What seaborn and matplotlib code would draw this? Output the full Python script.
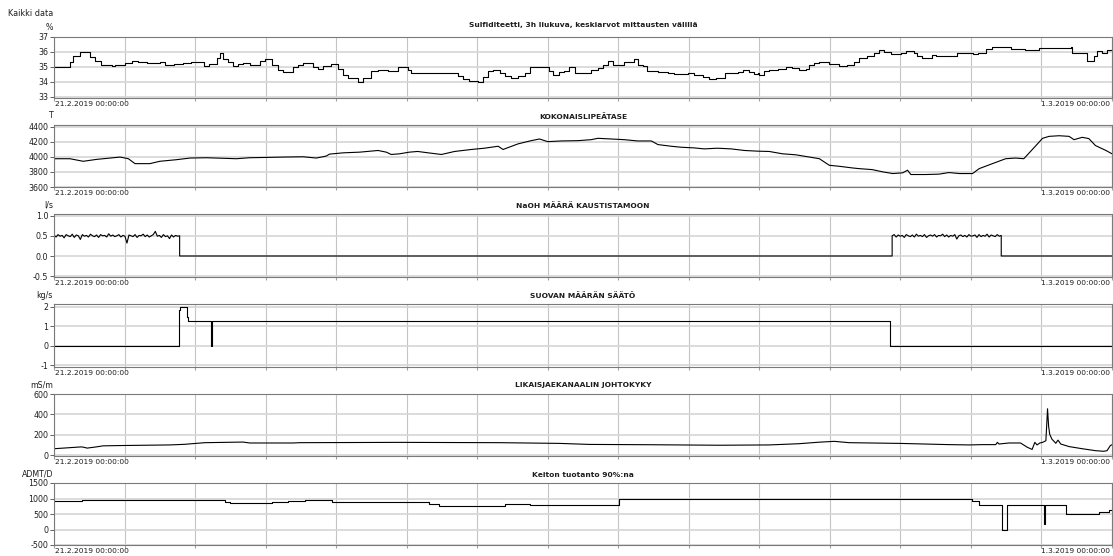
import numpy as np
import matplotlib
matplotlib.use("Agg")
import matplotlib.pyplot as plt
from matplotlib.ticker import FormatStrFormatter
import seaborn as sns

# ---- time axis: hours since 21.2.2019 00:00:00 (8 days) ----
T_END = 192.0
START_LABEL = "21.2.2019 00:00:00"
END_LABEL = "1.3.2019 00:00:00"

# ---- Sulfiditeetti (%), 3 h rolling mean, stepwise ----
sulf_t = [0, 2.9, 3.5, 4.7, 6.5, 7.4, 8.6, 10.5, 11.1, 12.9, 14.1, 15.3, 16.8, 19.2, 20.1,
          21.8, 23.4, 24.9, 26.2, 27.2, 28.2, 29.5, 30.1, 30.7, 31.6, 32.5, 33.4, 34.3,
          35.5, 37.3, 38.3, 39.6, 40.7, 41.6, 43.4, 44.3, 45.2, 47.0, 47.9, 48.8, 50.3,
          51.5, 52.5, 53.4, 55.2, 56.1, 57.6, 58.8, 60.6, 62.4, 64.2,
          64.8, 66.4, 68.5, 70.3, 73.3, 74.2, 75.4, 76.9, 77.8, 78.7, 79.6, 80.9, 81.8,
          83.0, 84.2, 85.4, 86.3, 89.9, 90.5, 91.7, 92.6, 93.5, 94.5, 96.3, 97.5, 98.7,
          99.6, 100.5, 101.4, 102.3, 103.5, 104.2, 105.3, 105.9, 106.8, 107.7, 109.6,
          111.4, 112.6, 115.0, 116.2, 117.7, 118.9, 120.1, 121.7, 124.1, 125.0, 126.2,
          127.1, 127.8,
          128.0, 128.9, 129.8, 131.3, 132.8, 134.0, 135.2, 136.5, 137.1, 138.0, 138.9,
          140.7, 142.5, 144.0, 145.2, 146.1, 147.6, 148.8, 149.8, 150.7, 151.9, 153.7,
          154.6, 156.1, 156.7, 157.6, 159.4, 160.0, 161.8, 163.9, 166.7, 167.6, 169.1,
          170.3, 173.6, 176.3, 178.2, 178.8, 184.5, 184.8, 187.5, 188.7, 189.3, 190.2,
          191.1, 192.0]
sulf_v = [35.0, 35.3, 35.75, 36.0, 35.65, 35.4, 35.15, 35.05, 35.15, 35.25, 35.4, 35.3,
          35.25, 35.3, 35.1, 35.2, 35.25, 35.35, 35.3, 35.05, 35.2, 35.6, 35.95, 35.55,
          35.35, 35.05, 35.2, 35.25, 35.1, 35.4, 35.55, 35.1, 34.75, 34.65, 35.0, 35.1,
          35.25, 35.0, 34.85, 35.05, 35.2, 34.85, 34.45, 34.25, 33.95, 34.25, 34.7, 34.8,
          34.7, 34.95, 34.75,
          34.55, 34.6, 34.55, 34.6, 34.4, 34.2, 34.05, 33.95, 34.3, 34.7, 34.75, 34.55,
          34.35, 34.25, 34.4, 34.6, 35.0, 34.7, 34.45, 34.65, 34.7, 34.95, 34.55, 34.6,
          34.75, 34.9, 35.15, 35.4, 35.15, 35.1, 35.3, 35.35, 35.5, 35.15, 35.05, 34.7,
          34.65, 34.6, 34.5, 34.6, 34.45, 34.3, 34.2, 34.25, 34.55, 34.65, 34.75, 34.65,
          34.5, 34.55,
          34.45, 34.7, 34.75, 34.85, 34.95, 34.9, 34.8, 34.85, 35.1, 35.25, 35.3, 35.2,
          35.05, 35.15, 35.35, 35.6, 35.7, 35.95, 36.15, 36.0, 35.85, 35.95, 36.05, 35.95,
          35.75, 35.6, 35.8, 35.7, 35.75, 35.95, 35.85, 35.95, 36.2, 36.3, 36.2, 36.15,
          36.1, 36.25, 36.35, 35.95, 35.4, 35.7, 36.05, 35.95, 36.1, 36.1]

# ---- Kokonaislipeätase (T) ----
lipea_t = [0, 2.9, 5.3, 7.7, 10.2, 12.0, 13.5, 14.7, 17.4, 19.2, 22.2, 24.7, 27.7, 33.1,
           35.5, 38.6, 41.6, 45.2, 47.6, 49.4, 50.0, 52.5, 55.5, 58.8, 60.3, 61.2, 62.7,
           64.5, 66.0, 67.9, 70.3, 72.7, 75.7, 78.1, 80.6, 81.5, 82.1, 84.2, 86.6, 88.1,
           89.6, 92.0, 95.1, 97.5, 98.7, 101.1, 103.5, 105.9, 108.4, 109.6, 112.0, 113.8,
           116.2, 118.0, 120.4, 122.9, 125.3, 127.7, 129.8, 132.2, 134.6, 137.1, 138.9,
           140.7, 142.5, 144.9, 146.1, 148.5, 150.4, 152.2, 154.0, 154.9, 155.5, 158.2,
           160.6, 162.4, 164.3, 166.7, 167.9, 170.3, 172.7, 174.5, 176.0, 178.2, 179.4,
           180.6, 182.4, 184.2, 185.1, 186.6, 187.8, 189.0, 190.9, 192.0]
lipea_v = [3974, 3974, 3940, 3965, 3983, 3996, 3974, 3909, 3909, 3940, 3961, 3983, 3987,
           3974, 3987, 3991, 3996, 4000, 3983, 4009, 4035, 4052, 4061, 4083, 4061, 4030,
           4039, 4061, 4070, 4052, 4030, 4070, 4096, 4113, 4139, 4096, 4113, 4170, 4213,
           4235, 4200, 4209, 4213, 4226, 4244, 4235, 4226, 4209, 4209, 4161, 4139, 4126,
           4117, 4104, 4113, 4104, 4083, 4074, 4070, 4039, 4026, 3996, 3974, 3887, 3874,
           3852, 3843, 3830, 3800, 3778, 3787, 3822, 3765, 3765, 3770, 3791, 3778, 3778,
           3843, 3909, 3974, 3983, 3974, 4148, 4244, 4270, 4278, 4270, 4226, 4257, 4240,
           4148, 4083, 4039]

# ---- NaOH määrä kaustistamoon (l/s): two running periods, zero otherwise ----
naoh_run1 = (0.0, 22.8)
naoh_run2 = (152.1, 171.9)
naoh_v1 = [0.52, 0.47, 0.53, 0.49, 0.51, 0.45, 0.53, 0.50, 0.48, 0.54,
           0.46, 0.52, 0.50, 0.41, 0.53, 0.49, 0.51, 0.47, 0.54, 0.50,
           0.48, 0.52, 0.46, 0.53, 0.50, 0.51, 0.47, 0.55, 0.49, 0.52,
           0.48, 0.50, 0.53, 0.47, 0.51, 0.49, 0.32, 0.52, 0.50, 0.48,
           0.53, 0.46, 0.51, 0.50, 0.54, 0.48, 0.52, 0.47, 0.50, 0.53,
           0.61, 0.49, 0.51, 0.46, 0.53, 0.48, 0.50, 0.43, 0.52, 0.47,
           0.51, 0.49, 0.50]
naoh_v2 = [0.50, 0.53, 0.47, 0.52, 0.49, 0.51, 0.46, 0.53, 0.50, 0.48,
           0.52, 0.47, 0.54, 0.49, 0.51, 0.48, 0.53, 0.46, 0.50, 0.52,
           0.49, 0.53, 0.47, 0.51, 0.50, 0.54, 0.48, 0.52, 0.47, 0.51,
           0.49, 0.53, 0.42, 0.50, 0.52, 0.48, 0.51, 0.47, 0.53, 0.49,
           0.50, 0.52, 0.46, 0.53, 0.48, 0.51, 0.49, 0.54, 0.47, 0.52,
           0.50, 0.48, 0.53, 0.49, 0.51]

# ---- Suovan määrän säätö (kg/s), stepwise ----
suopa_t = [0, 22.7, 22.9, 24.1, 24.3, 28.5, 28.6, 151.7, 192.0]
suopa_v = [0, 1.85, 2.0, 1.5, 1.27, 0.0, 1.27, 0.0, 0.0]

# ---- Likaisjaekanaalin johtokyky (mS/m) ----
johto_t = [0, 5.0, 5.6, 6.0, 7.7, 8.9, 12.0, 21.0, 23.7, 25.3, 27.4, 34.3, 35.5, 43.4,
           44.6, 62.7, 80.9, 91.7, 97.2, 108.1, 120.7, 129.8, 135.2, 138.9, 141.6, 144.3,
           153.4, 162.4, 166.1, 168.5, 170.9, 171.2, 171.5, 173.3, 175.4, 176.6, 177.5,
           178.0, 178.4, 178.9, 179.4, 180.0, 180.2, 180.3, 180.5, 180.7, 181.1, 181.5,
           181.8, 182.2, 182.7, 184.2, 186.6, 189.0, 190.5, 191.1, 191.7, 192.0]
johto_v = [66, 84, 78, 72, 84, 94, 97, 103, 109, 116, 125, 131, 122, 122,
           125, 128, 125, 118, 108, 105, 100, 103, 115, 130, 138, 125,
           118, 106, 103, 106, 106, 128, 112, 122, 122, 81, 59,
           128, 103, 122, 128, 144, 347, 456, 284, 206, 159, 137,
           119, 150, 112, 87, 66, 47, 41, 47, 97, 105]

# ---- Keiton tuotanto 90 %:na (ADMT/D), stepwise ----
keitto_t = [0, 5.0, 31.0, 31.9, 37.9, 39.5, 42.5, 45.5, 50.5, 68.0, 69.8, 71.0, 81.8,
            86.3, 101.7, 102.6, 166.6, 167.9, 172.1, 173.0, 179.7, 179.9, 183.6,
            189.6, 191.4, 192.0]
keitto_v = [906, 948, 873, 840, 855, 883, 906, 948, 883, 818, 750, 750, 818,
            800, 800, 981, 916, 775, 0, 775, 186, 775, 513, 566, 620, 620]

# ---- panel definitions ----
titles = ["Sulfiditeetti, 3h liukuva, keskiarvot mittausten välillä",
          "KOKONAISLIPEÄTASE",
          "NaOH MÄÄRÄ KAUSTISTAMOON",
          "SUOVAN MÄÄRÄN SÄÄTÖ",
          "LIKAISJAEKANAALIN JOHTOKYKY",
          "Keiton tuotanto 90%:na"]
units = ["%", "T", "l/s", "kg/s", "mS/m", "ADMT/D"]
yticks = [[33, 34, 35, 36, 37],
          [3600, 3800, 4000, 4200, 4400],
          [-0.5, 0.0, 0.5, 1.0],
          [-1, 0, 1, 2],
          [0, 200, 400, 600],
          [-500, 0, 500, 1000, 1500]]
ylims = [(32.9, 37.0), (3600, 4420), (-0.52, 1.04), (-1.09, 2.15), (-5, 600), (-500, 1500)]

naoh_t = np.concatenate([np.linspace(*naoh_run1, len(naoh_v1)), [naoh_run1[1], naoh_run2[0]],
                         np.linspace(*naoh_run2, len(naoh_v2)), [naoh_run2[1], T_END]])
naoh_v = np.concatenate([naoh_v1, [0.0, 0.0], naoh_v2, [0.0, 0.0]])

series = [(sulf_t, sulf_v, "steps-post"),
          (lipea_t, lipea_v, "default"),
          (naoh_t, naoh_v, "default"),
          (suopa_t, suopa_v, "steps-post"),
          (johto_t, johto_v, "default"),
          (keitto_t, keitto_v, "steps-post")]

# ---- styling ----
sns.set_theme(style="white")
plt.rcParams["font.family"] = ["DejaVu Sans"]
plt.rcParams["axes.unicode_minus"] = False

W, H = 1113, 556
fig = plt.figure(figsize=(W / 100, H / 100), dpi=100)
fig.patch.set_facecolor("white")

rows_px = [(37, 98), (125, 187), (214, 277), (304, 367), (394, 456), (483, 545)]
title_gap = [12, 8, 8, 8, 9, 8]
left_px, right_px = 54, 1112
FS = 5.7
TXT = "#1e1e1e"

fig.text(8 / W, 1 - 13 / H, "Kaikki data", fontsize=5.9, color=TXT, va="center", ha="left")

for i, ((t, v, ds), (top, bot)) in enumerate(zip(series, rows_px)):
    ax = fig.add_axes([left_px / W, 1 - bot / H, (right_px - left_px) / W, (bot - top) / H])
    sns.lineplot(x=np.asarray(t, float), y=np.asarray(v, float), ax=ax, color="black",
                 lw=0.8, drawstyle=ds, estimator=None, sort=False)
    ax.set_xlim(0, T_END)
    ax.set_ylim(*ylims[i])
    ax.set_xticks(np.linspace(0, T_END, 16))
    ax.set_xticklabels([])
    ax.set_yticks(yticks[i])
    if i == 2:
        ax.yaxis.set_major_formatter(FormatStrFormatter("%.1f"))
    ax.set_xlabel("")
    ax.set_ylabel("")
    ax.grid(axis="y", color="#d6d6d6", lw=1.2)
    ax.grid(axis="x", color="#c4c4c4", lw=0.8)
    ax.set_axisbelow(True)
    for s in ax.spines.values():
        s.set_color("#7a7a7a")
        s.set_linewidth(0.8)
    ax.tick_params(axis="x", length=2.5, width=0.8, color="#a0a0a0", bottom=True)
    ax.tick_params(axis="y", length=3, width=0.7, color="#606060", labelsize=FS,
                   labelcolor=TXT, pad=1, left=True)
    if ax.get_legend() is not None:
        ax.get_legend().remove()

    cx = (left_px + right_px) / 2 / W
    fig.text(cx, 1 - (top - title_gap[i]) / H, titles[i], fontsize=5.4, fontweight="bold",
             color=TXT, ha="center", va="center")
    fig.text(53 / W, 1 - (top - 9) / H, units[i], fontsize=FS, color=TXT,
             ha="right", va="center")
    fig.text(55 / W, 1 - (bot + 6) / H, START_LABEL, fontsize=5.4, color=TXT,
             ha="left", va="center")
    fig.text(1110 / W, 1 - (bot + 6) / H, END_LABEL, fontsize=5.4, color=TXT,
             ha="right", va="center")

fig.savefig("out.png", dpi=100, facecolor="white")
